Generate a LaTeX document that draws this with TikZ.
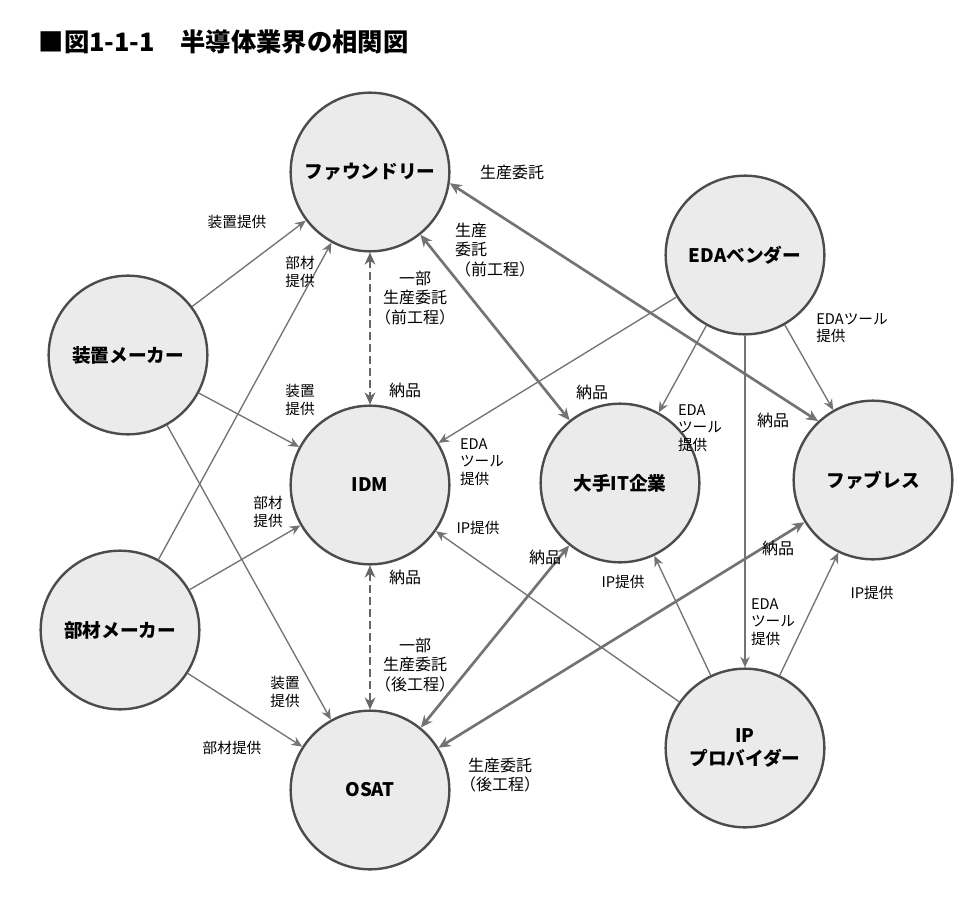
\documentclass[tikz,border=0pt]{standalone}
\usepackage{fontspec}
\setmainfont{Noto Sans CJK JP}
\usetikzlibrary{arrows.meta}
\begin{document}
\begin{tikzpicture}[x=0.75pt,y=-0.75pt,
  ent/.style={circle,draw=black!70,line width=1.8pt,fill=black!8,minimum size=119pt,inner sep=0pt,font=\fontsize{14}{17}\selectfont\bfseries,align=center},
  arr/.style={draw=black!55,line width=1pt,-{Stealth[length=8pt,width=7pt]}},
  big/.style={draw=black!55,line width=2pt,{Stealth[length=9pt,width=8pt]}-{Stealth[length=9pt,width=8pt]}},
  dsh/.style={big,draw=black!60,line width=2.2pt,dashed,dash pattern=on 6pt off 3pt},
  lab/.style={font=\fontsize{11}{13}\selectfont,align=center,inner sep=1pt},
  labb/.style={lab,font=\fontsize{12}{14.5}\selectfont}]
\useasboundingbox (0,0) rectangle (973,899);
\fill[white] (0,0) rectangle (973,899);
\node[anchor=west,font=\fontsize{19}{22}\selectfont\bfseries] (title) at (34,42) {■図1-1-1　半導体業界の相関図};
\node[ent] (fd) at (370,172) {ファウンドリー};
\node[ent] (eda) at (745,255) {EDAベンダー};
\node[ent] (sc) at (128,355) {装置メーカー};
\node[ent] (idm) at (370,485) {IDM};
\node[ent] (it) at (620,483) {大手IT企業};
\node[ent] (fb) at (873,480) {ファブレス};
\node[ent] (bz) at (120,630) {部材メーカー};
\node[ent] (os) at (370,790) {OSAT};
\node[ent] (ip) at (745,748) {IP\\プロバイダー};
% equipment/material
\draw[arr] (sc) -- (fd);
\draw[arr] (sc) -- (idm);
\draw[arr] (sc) -- (os);
\draw[arr] (bz) -- (fd);
\draw[arr] (bz) -- (idm);
\draw[arr] (bz) -- (os);
% EDA
\draw[arr] (eda) -- (idm);
\draw[arr] (eda) -- (it);
\draw[arr] (eda) -- (fb);
\draw[arr] (eda) -- (ip);
% IP
\draw[arr] (ip) -- (idm);
\draw[arr] (ip) -- (it);
\draw[arr] (ip) -- (fb);
% manufacturing
\draw[dsh] (fd) -- (idm);
\draw[dsh] (idm) -- (os);
\draw[big] (fd) -- (it);
\draw[big] (fd.-8) -- (fb.133);
\draw[big] (os) -- (it);
\draw[big] (os) -- (fb);
% labels
\node[lab] (l1) at (237,222) {装置提供};
\node[lab] (l2) at (300,272) {部材\\提供};
\node[lab] (l3) at (300,400) {装置\\提供};
\node[lab] (l4) at (268,512) {部材\\提供};
\node[lab] (l5) at (285,692) {装置\\提供};
\node[lab] (l6) at (232,748) {部材提供};
\node[labb] (l7) at (415,298) {一部\\生産委託\\（前工程）};
\node[labb] (l8) at (405,390) {納品};
\node[labb] (l9) at (405,577) {納品};
\node[labb] (l10) at (415,665) {一部\\生産委託\\（後工程）};
\node[labb] (l11) at (512,172) {生産委託};
\node[labb,align=left] (l12) at (495,250) {生産\\委託\\（前工程）};
\node[labb] (l13) at (592,392) {納品};
\node[labb] (l14) at (773,420) {納品};
\node[labb] (l15) at (545,557) {納品};
\node[labb] (l16) at (778,548) {納品};
\node[labb] (l17) at (500,775) {生産委託\\（後工程）};
\node[lab,align=left] (l18) at (482,462) {EDA\\ツール\\提供};
\node[lab,align=left] (l19) at (700,428) {EDA\\ツール\\提供};
\node[lab,align=left] (l20) at (852,328) {EDAツール\\提供};
\node[lab,align=left] (l21) at (773,622) {EDA\\ツール\\提供};
\node[lab] (l22) at (478,528) {IP提供};
\node[lab] (l23) at (623,582) {IP提供};
\node[lab] (l24) at (872,593) {IP提供};
\end{tikzpicture}
\end{document}
